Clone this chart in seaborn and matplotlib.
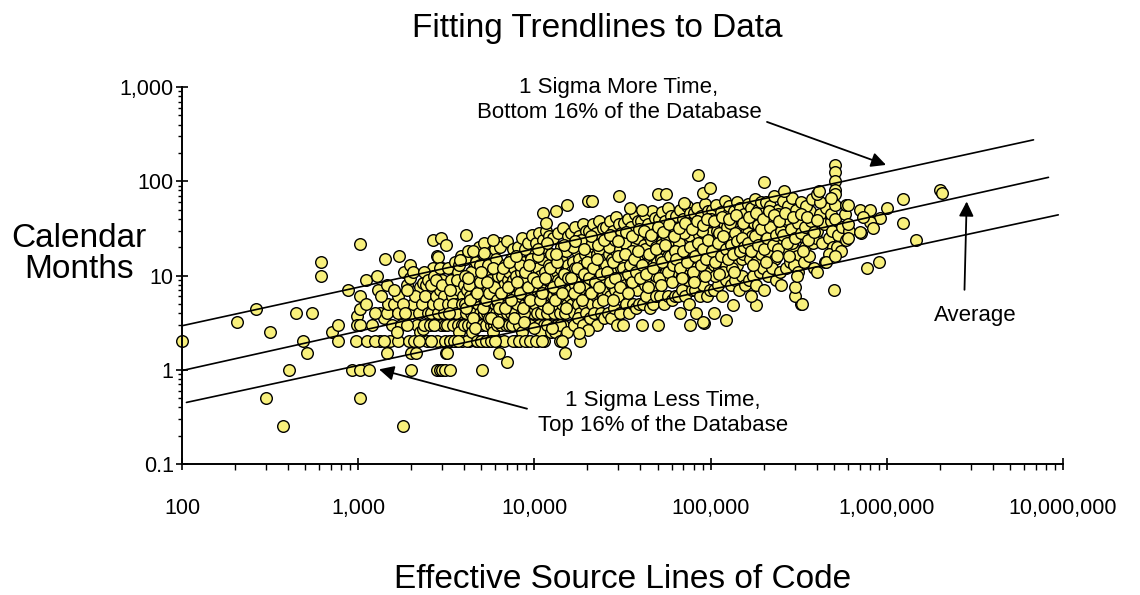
import matplotlib
matplotlib.use("Agg")
import matplotlib.pyplot as plt
import matplotlib.ticker as mticker
import pandas as pd
import seaborn as sns

# ---------------- data (SLOC, calendar months) ----------------
pts_left = [
    (100, 2), (205, 3.2), (263, 4.4), (300, 0.5), (316, 2.5), (376, 0.25), (406, 1), (443, 4),
    (484, 2), (510, 1.5), (550, 4), (615, 14), (615, 10), (713, 2.5), (767, 3), (767, 2),
    (879, 7), (927, 1), (968, 2), (980, 3.7), (980, 3), (1023, 21.5), (1023, 6), (1023, 4.4),
    (1023, 3), (1023, 1), (1023, 0.5), (1106, 5), (1106, 9), (1127, 2), (1150, 1), (1274, 10),
    (1297, 7), (1330, 2), (1330, 4), (1400, 3.5), (1415, 15), (1450, 8), (1450, 4), (1452, 1.5),
    (1480, 5), (1510, 2), (1590, 5), (1690, 6), (1690, 4), (1690, 2), (1706, 16), (1790, 0.25),
    (1820, 11), (1880, 8), (1950, 2), (1970, 13), (1970, 9.5), (1995, 1), (2000, 1.5), (2000, 4),
    (2040, 11), (2050, 5), (2140, 1.5), (2150, 3), (2240, 7.5), (2240, 2.5), (2330, 8.4),
    (2330, 2.7), (2440, 8), (2450, 2), (2660, 24), (2660, 12), (2660, 7), (2780, 4), (2786, 1),
    (2800, 16), (2850, 15.7), (2900, 1), (2970, 25), (3000, 12), (3000, 9), (3000, 3), (3000, 1),
    (3100, 1), (3150, 1.5), (3160, 21), (3200, 1.5), (3300, 1),
    (1200, 3), (1250, 4), (1350, 6), (1550, 3), (1600, 7), (1750, 3), (1800, 5), (1850, 4),
    (1900, 3), (2100, 6), (2200, 4), (2300, 5), (2350, 3), (2400, 6), (2500, 4), (1650, 2.5),
    (2080, 2), (2200, 2), (2600, 2), (2350, 11), (2500, 9), (1900, 7), (1250, 2), (1400, 2),
]

pts_core_a = [
    (2550, 3), (2600, 4), (2650, 5), (2700, 3), (2750, 6), (2800, 2), (2850, 4), (2900, 7),
    (2950, 3), (3000, 5), (3050, 4), (3100, 2), (2600, 8), (2700, 10), (2900, 12), (3050, 6),
    (2580, 2), (2680, 3), (2780, 9), (2880, 5), (3120, 3), (2980, 8),
    (3200, 3), (3250, 5), (3300, 2), (3350, 4), (3400, 6), (3450, 3), (3500, 8), (3550, 4),
    (3600, 2), (3650, 5), (3700, 3), (3750, 7), (3800, 4), (3850, 10), (3900, 3), (3950, 6),
    (3220, 12), (3380, 9), (3520, 14), (3680, 11), (3820, 16), (3300, 7), (3450, 5), (3600, 4),
    (3750, 2.5), (3900, 5), (3280, 4), (3620, 9), (3880, 2), (3480, 2), (3720, 13), (3960, 8),
    (4000, 3), (4050, 5), (4100, 4), (4150, 7), (4200, 3), (4250, 2), (4300, 6), (4350, 4),
    (4400, 9), (4450, 3), (4500, 5), (4550, 12), (4600, 4), (4650, 2), (4700, 7), (4750, 3),
    (4800, 5), (4850, 10), (4900, 4), (4950, 6), (4020, 15), (4180, 18), (4380, 11), (4520, 8),
    (4680, 14), (4880, 20), (4120, 2), (4420, 2.5), (4780, 3), (4980, 2), (4280, 8), (4620, 6),
    (4060, 10), (4920, 13),
    (5050, 3), (5100, 6), (5150, 4), (5200, 8), (5250, 5), (5300, 3), (5350, 11), (5400, 4),
    (5450, 7), (5500, 2), (5550, 5), (5600, 9), (5650, 3), (5700, 6), (5750, 14), (5800, 4),
    (5850, 8), (5900, 3), (5950, 5), (6000, 12), (6050, 4), (6100, 7), (6150, 2), (6200, 10),
    (6250, 5), (5080, 17), (5380, 20), (5680, 16), (5980, 19), (6280, 22), (5220, 2), (5520, 3.5),
    (5820, 2.5), (6120, 3), (5480, 13), (6080, 15),
    (6350, 4), (6400, 7), (6450, 3), (6500, 5), (6550, 10), (6600, 4), (6650, 6), (6700, 2),
    (6750, 8), (6800, 5), (6850, 13), (6900, 3), (6950, 7), (7000, 4), (7050, 9), (7100, 6),
    (7150, 3), (7200, 11), (7250, 5), (7300, 8), (7350, 4), (7400, 15), (7450, 6), (7500, 3),
    (7550, 9), (7600, 5), (7650, 12), (7700, 7), (7750, 4), (7800, 18), (7850, 6), (7900, 10),
    (6420, 20), (6980, 23), (7520, 19), (7880, 2),
    (8000, 5), (8100, 8), (8200, 3), (8300, 6), (8400, 11), (8500, 4), (8600, 7), (8700, 14),
    (8800, 5), (8900, 9), (9000, 3), (9100, 6), (9200, 12), (9300, 4), (9400, 8), (9500, 17),
    (9600, 5), (9700, 10), (9800, 3), (9900, 7), (8050, 20), (8450, 25), (8850, 19), (9250, 22),
    (9650, 27), (8150, 2), (8550, 2.5), (9050, 2), (9450, 3), (9850, 4), (8250, 13), (8650, 9),
    (9150, 6), (9550, 15), (9950, 11), (8750, 4),
]

pts_core_b = [
    (10100, 5), (10200, 9), (10300, 4), (10400, 7), (10500, 12), (10600, 3), (10700, 6),
    (10800, 10), (10900, 4), (11000, 8), (11100, 15), (11200, 5), (11300, 7), (11400, 3),
    (11500, 11), (11600, 6), (11700, 18), (11800, 4), (11900, 9), (12000, 5), (12100, 13),
    (12200, 7), (12300, 3), (12400, 10), (12500, 6), (10150, 22), (10650, 28), (11150, 24),
    (11650, 30), (12150, 26), (10350, 2), (10850, 2.5), (11350, 2), (11850, 3), (12350, 2.5),
    (10550, 16), (11450, 20), (12450, 17),
    (12700, 6), (12800, 10), (12900, 4), (13000, 8), (13100, 13), (13200, 5), (13300, 7),
    (13400, 11), (13500, 3), (13600, 9), (13700, 16), (13800, 6), (13900, 4), (14000, 12),
    (14100, 7), (14200, 20), (14300, 5), (14400, 9), (14500, 3), (14600, 14), (14700, 8),
    (14800, 6), (14900, 11), (15000, 4), (15100, 18), (15200, 7), (15300, 10), (15400, 5),
    (15500, 13), (15600, 8), (15700, 6), (12750, 25), (13650, 28), (14550, 32), (15450, 26),
    (13150, 2.5), (14050, 3), (15250, 2.5),
    (16000, 7), (16150, 11), (16300, 5), (16450, 9), (16600, 14), (16750, 4), (16900, 8),
    (17050, 12), (17200, 6), (17350, 18), (17500, 10), (17650, 5), (17800, 7), (17950, 15),
    (18100, 9), (18250, 4), (18400, 11), (18550, 22), (18700, 6), (18850, 13), (19000, 8),
    (19150, 5), (19300, 17), (19450, 10), (19600, 7), (19800, 12), (16200, 28), (17100, 33),
    (18000, 26), (18900, 35), (19700, 30), (16700, 3), (17700, 3.5), (18800, 3), (19500, 4),
    (16500, 20), (18300, 24),
    (20100, 8), (20300, 12), (20500, 6), (20700, 10), (20900, 16), (21100, 5), (21300, 9),
    (21500, 14), (21700, 7), (21900, 20), (22100, 11), (22300, 6), (22500, 8), (22700, 17),
    (22900, 10), (23100, 5), (23300, 13), (23500, 25), (23700, 7), (23900, 11), (24100, 9),
    (24300, 15), (24500, 6), (24700, 12), (24900, 8), (20400, 30), (21400, 35), (22400, 28),
    (23400, 38), (24400, 32), (20800, 3.5), (21800, 4), (22800, 3), (23800, 4), (24800, 3.5),
    (21200, 22), (23200, 19),
    (25300, 9), (25600, 13), (25900, 7), (26200, 11), (26500, 17), (26800, 6), (27100, 10),
    (27400, 15), (27700, 8), (28000, 22), (28300, 12), (28600, 7), (28900, 9), (29200, 18),
    (29500, 11), (29800, 6), (30100, 14), (30400, 26), (30700, 8), (31000, 12), (31300, 10),
    (25500, 33), (26700, 38), (27900, 30), (29100, 42), (30300, 35), (31200, 28), (26000, 4),
    (27200, 3.5), (28400, 4.5), (29600, 3), (30800, 4), (26400, 20), (28700, 24), (30600, 19),
    (32000, 10), (32400, 15), (32800, 8), (33200, 12), (33600, 19), (34000, 7), (34400, 11),
    (34800, 16), (35200, 9), (35600, 24), (36000, 13), (36400, 8), (36800, 10), (37200, 20),
    (37600, 12), (38000, 7), (38400, 15), (38800, 28), (39200, 9), (39600, 13), (32200, 36),
    (33800, 40), (35400, 33), (37000, 45), (38600, 38), (33000, 5), (34600, 4), (36200, 5),
    (37800, 4.5), (39400, 5), (32600, 22), (35800, 18), (38200, 25),
]

pts_core_c = [
    (40000, 11), (40500, 16), (41000, 9), (41500, 13), (42000, 21), (42500, 8), (43000, 12),
    (43500, 17), (44000, 10), (44500, 26), (45000, 14), (45500, 9), (46000, 11), (46500, 22),
    (47000, 13), (47500, 8), (48000, 16), (48500, 30), (49000, 10), (49500, 14), (40200, 38),
    (42200, 44), (44200, 35), (46200, 48), (48200, 41), (41200, 5), (43200, 6), (45200, 4.5),
    (47200, 5), (49200, 6), (42700, 19), (45700, 24), (48700, 20),
    (50500, 12), (51200, 18), (51900, 10), (52600, 15), (53300, 23), (54000, 9), (54700, 13),
    (55400, 19), (56100, 11), (56800, 28), (57500, 16), (58200, 10), (58900, 12), (59600, 24),
    (60300, 14), (61000, 9), (61700, 17), (62400, 32), (62900, 11), (50800, 40), (53000, 47),
    (55200, 38), (57400, 52), (59700, 43), (62000, 36), (51500, 6), (54300, 5), (57100, 6),
    (60000, 5.5), (62600, 6), (52300, 21), (56000, 26), (60700, 20),
    (63500, 13), (64500, 19), (65500, 11), (66500, 16), (67500, 25), (68500, 10), (69500, 14),
    (70500, 21), (71500, 12), (72500, 30), (73500, 17), (74500, 11), (75500, 13), (76500, 26),
    (77500, 15), (78500, 10), (79000, 18), (64000, 43), (67000, 50), (70000, 40), (73000, 55),
    (76000, 46), (79200, 38), (65000, 6), (69000, 7), (72000, 6), (75000, 5), (78000, 7),
    (66000, 22), (71000, 28), (74000, 9), (77000, 35),
    (80000, 15), (81500, 21), (83000, 12), (84500, 17), (86000, 27), (87500, 11), (89000, 15),
    (90500, 23), (92000, 13), (93500, 33), (95000, 18), (96500, 12), (98000, 14), (99500, 28),
    (80500, 46), (84000, 52), (88000, 43), (92500, 58), (97000, 48), (82000, 7), (86500, 6),
    (91000, 8), (95500, 6), (99000, 7), (81000, 9), (85000, 10), (89500, 30), (94000, 20),
    (97500, 38),
    (101000, 16), (103000, 23), (105000, 13), (107000, 19), (109000, 30), (111000, 12),
    (113000, 17), (115000, 25), (117000, 14), (119000, 36), (121000, 20), (123000, 13),
    (125000, 16), (102000, 50), (108000, 56), (114000, 47), (120000, 62), (124000, 44),
    (104000, 7), (110000, 8), (116000, 6), (122000, 9), (106000, 10), (112000, 28),
    (118000, 11), (124500, 33), (100500, 40),
    (127000, 18), (130000, 25), (133000, 14), (136000, 21), (139000, 33), (142000, 13),
    (145000, 19), (148000, 27), (151000, 15), (154000, 39), (157000, 22), (128000, 55),
    (135000, 48), (141000, 60), (147000, 52), (155000, 45), (131000, 8), (138000, 9),
    (144000, 7), (150000, 10), (156000, 8), (132000, 12), (146000, 30), (152000, 17),
    (129000, 36), (158000, 28),
]

pts_core_d = [
    (160000, 20), (164000, 28), (168000, 15), (172000, 23), (176000, 36), (180000, 14),
    (184000, 20), (188000, 30), (192000, 17), (196000, 42), (162000, 58), (170000, 52),
    (178000, 65), (186000, 50), (194000, 60), (166000, 9), (174000, 10), (182000, 8),
    (190000, 11), (198000, 12), (171000, 26), (185000, 34), (199000, 22),
    (202000, 22), (208000, 31), (214000, 17), (220000, 25), (226000, 40), (232000, 15),
    (238000, 22), (244000, 33), (250000, 18), (205000, 60), (217000, 55), (229000, 70),
    (241000, 50), (211000, 10), (223000, 12), (235000, 9), (247000, 11), (218000, 28),
    (240000, 45),
    (255000, 24), (263000, 35), (271000, 18), (279000, 28), (287000, 44), (295000, 20),
    (303000, 30), (311000, 16), (259000, 62), (275000, 55), (291000, 66), (307000, 50),
    (267000, 12), (283000, 14), (299000, 13), (315000, 11), (288000, 22), (270000, 40),
    (320000, 26), (332000, 40), (344000, 20), (356000, 32), (368000, 48), (380000, 22),
    (392000, 34), (326000, 60), (350000, 55), (374000, 65), (338000, 14), (362000, 16),
    (386000, 12), (395000, 25),
    (402000, 30), (415000, 45), (428000, 22), (441000, 35), (454000, 52), (467000, 25),
    (480000, 38), (493000, 20), (420000, 60), (446000, 14), (472000, 17), (490000, 30),
    (485000, 45),
    (505000, 40), (530000, 27), (560000, 33), (580000, 45), (610000, 30), (520000, 20),
    (550000, 18), (600000, 35),
]

pts_core_fill = [
    (4100, 4.5), (4300, 5.5), (4500, 3.5), (4700, 6.5), (4900, 8.5), (5100, 4.5), (5300, 5.5),
    (5500, 6.5), (5700, 3.5), (5900, 7.5), (6100, 5.5), (6300, 4.5), (4200, 9.5), (4600, 2.8),
    (5000, 11), (5400, 8.5), (5800, 12), (6200, 3.2),
    (6500, 6.5), (6800, 4.5), (7100, 7.5), (7400, 5.5), (7700, 3.5), (8000, 8.5), (8300, 6.5),
    (8600, 4.5), (8900, 11), (9200, 7.5), (9500, 5.5), (9800, 9.5), (6600, 12), (7200, 14),
    (7900, 16), (8700, 3.2), (9300, 13), (9900, 2.8),
    (10300, 8.5), (10700, 5.5), (11100, 6.5), (11500, 9.5), (11900, 4.5), (12300, 12),
    (12700, 7.5), (13100, 5.5), (13500, 14), (13900, 8.5), (14300, 6.5), (14700, 10.5),
    (15100, 4.5), (15500, 9.5), (10500, 19), (11800, 22), (13300, 17), (14800, 21),
    (16200, 9.5), (16800, 6.5), (17400, 12), (18000, 7.5), (18600, 5.5), (19200, 10.5),
    (19800, 14), (20400, 9.5), (21000, 6.5), (21600, 12), (22200, 8.5), (22800, 15),
    (23400, 7.5), (24000, 10.5), (24600, 5.5), (17000, 23), (19000, 19), (21000, 26),
    (23000, 21), (24800, 24),
    (25800, 11), (26800, 8.5), (27800, 14), (28800, 9.5), (29800, 16), (30800, 7.5),
    (31800, 12), (32800, 17), (33800, 10.5), (34800, 13), (35800, 8.5), (36800, 15),
    (37800, 11), (38800, 18), (39800, 9.5), (27000, 27), (30000, 23), (33000, 29), (36000, 26),
    (39000, 31), (28000, 5.5), (34000, 6.5),
    (41000, 13), (43000, 10.5), (45000, 17), (47000, 12), (49000, 19), (51000, 9.5),
    (53000, 14), (55000, 21), (57000, 11), (59000, 16), (61000, 13), (63000, 18), (42000, 30),
    (46000, 27), (50000, 33), (54000, 29), (58000, 35), (62000, 26), (44000, 7.5), (52000, 8),
    (60000, 8.5),
    (64000, 15), (67000, 12), (70000, 18), (73000, 14), (76000, 20), (79000, 11), (82000, 16),
    (85000, 22), (88000, 13), (91000, 19), (94000, 15), (97000, 24), (66000, 32), (72000, 36),
    (78000, 31), (84000, 38), (90000, 34), (96000, 40), (69000, 9.5), (81000, 8.5), (93000, 10),
    (102000, 18), (106000, 14), (110000, 22), (114000, 16), (118000, 26), (122000, 19),
    (126000, 15), (130000, 21), (134000, 17), (138000, 28), (142000, 23), (146000, 18),
    (150000, 25), (154000, 20), (104000, 38), (116000, 42), (128000, 40), (140000, 44),
    (152000, 36), (112000, 10.5), (136000, 11),
    (162000, 22), (170000, 18), (178000, 26), (186000, 21), (194000, 31), (202000, 19),
    (210000, 25), (218000, 33), (226000, 21), (234000, 27), (242000, 19), (250000, 30),
    (166000, 42), (182000, 46), (198000, 40), (214000, 48), (230000, 44), (246000, 38),
    (174000, 13), (206000, 14), (238000, 16),
    (258000, 27), (272000, 22), (286000, 31), (300000, 25), (314000, 36), (328000, 28),
    (342000, 33), (356000, 24), (370000, 38), (384000, 29), (264000, 46), (294000, 42),
    (324000, 45), (354000, 42), (280000, 16), (334000, 18),
]

pts_edges = [
    (4090, 27), (5150, 22), (5840, 24), (3800, 14.7), (4470, 18), (5200, 17.5), (11200, 46),
    (11700, 36), (85000, 117), (30400, 69), (50600, 74), (55800, 74), (20200, 61), (21200, 61),
    (15300, 56), (13300, 48), (34900, 52), (40900, 50), (70800, 59), (90000, 75), (14900, 1.5),
    (13900, 2), (14400, 2), (18200, 2), (20200, 2.65), (17900, 2.45), (12600, 2.8), (32000, 3),
    (41000, 3), (50500, 3), (76000, 3), (67000, 4), (83000, 4), (92000, 3.1), (5030, 1),
    (6960, 1.2), (6330, 1.5), (3300, 2), (3500, 2), (3700, 2), (4700, 2), (5000, 2), (5300, 2),
    (5700, 2), (6000, 2), (7600, 2), (8200, 2), (8800, 2), (9500, 2), (10200, 2), (11000, 2),
]

pts_right = [
    (508000, 150), (508000, 125), (508000, 100), (508000, 80), (508000, 73), (508000, 56),
    (200000, 97), (99000, 84), (260000, 78), (400000, 73), (500000, 7), (770000, 12),
    (325000, 5), (300000, 6), (300000, 7.6), (250000, 8), (310000, 9.8), (400000, 11),
    (450000, 14), (510000, 16), (590000, 24), (710000, 28), (700000, 50), (590000, 56),
    (400000, 39), (480000, 66), (180000, 4.9), (123000, 3.4), (104000, 4), (91000, 3.2),
    (200000, 7), (169000, 6), (134000, 4.9), (2000000, 81), (2050000, 75), (1240000, 65),
    (1240000, 36), (1470000, 24), (1000000, 52), (900000, 14), (330000, 5), (910000, 41),
    (800000, 50), (800000, 37), (840000, 32), (700000, 29), (730000, 42), (600000, 56),
    (600000, 25), (410000, 78),
]

# trendlines: (start SLOC, end SLOC), (start months, end months)
upper_sloc = [100, 6.8e6]
upper_months = [2.93, 275]
avg_sloc = [100, 8.27e6]
avg_months = [0.98, 110]
lower_sloc = [106, 9.4e6]
lower_months = [0.45, 44]

x_ticks = [100, 1000, 10000, 100000, 1000000, 10000000]
y_ticks = [0.1, 1, 10, 100, 1000]

# ---------------- plotting ----------------
sns.set_theme(style="white")
plt.rcParams["font.family"] = ["Liberation Sans", "DejaVu Sans"]
plt.rcParams["text.color"] = "black"
plt.rcParams["xtick.color"] = "black"
plt.rcParams["ytick.color"] = "black"
plt.rcParams["axes.labelcolor"] = "black"

W, H = 1140, 595
fig = plt.figure(figsize=(W / 100, H / 100), dpi=100)
ax = fig.add_axes([182 / W, 1 - 464 / H, 881 / W, (464 - 87) / H])
ax.set_xscale("log")
ax.set_yscale("log")

all_pts = (pts_left + pts_core_a + pts_core_b + pts_core_c + pts_core_d + pts_core_fill
           + pts_edges + pts_right)
df = pd.DataFrame(all_pts, columns=["sloc", "months"])

sns.scatterplot(data=df, x="sloc", y="months", ax=ax, s=70, color="#F8F07C",
                edgecolor="black", linewidth=1.0, clip_on=False, zorder=2, legend=False)

for xs, ys in [(upper_sloc, upper_months), (avg_sloc, avg_months), (lower_sloc, lower_months)]:
    sns.lineplot(x=xs, y=ys, ax=ax, color="black", lw=1.2, zorder=3, estimator=None, sort=False)

ax.set_xlim(100, 1e7)
ax.set_ylim(0.1, 1000)
ax.set_xticks(x_ticks)
ax.set_yticks(y_ticks)

def fmt(v, pos=None):
    if v < 1:
        return f"{v:g}"
    return f"{int(round(v)):,}"

ax.xaxis.set_major_formatter(mticker.FuncFormatter(fmt))
ax.yaxis.set_major_formatter(mticker.FuncFormatter(fmt))
ax.xaxis.set_minor_locator(mticker.LogLocator(base=10, subs=range(2, 10), numticks=20))
ax.yaxis.set_minor_locator(mticker.LogLocator(base=10, subs=range(2, 10), numticks=20))
ax.xaxis.set_minor_formatter(mticker.NullFormatter())
ax.yaxis.set_minor_formatter(mticker.NullFormatter())

for s in ["top", "right"]:
    ax.spines[s].set_visible(False)
for s in ["left", "bottom"]:
    ax.spines[s].set_color("black")
    ax.spines[s].set_linewidth(1.4)

ax.tick_params(which="both", bottom=True, left=True, colors="black", labelcolor="black")
ax.tick_params(axis="x", which="major", direction="inout", length=9, width=1.2,
               labelsize=15.5, pad=20)
ax.tick_params(axis="x", which="minor", direction="out", length=4, width=1.0)
ax.tick_params(axis="y", which="major", direction="inout", length=8, width=1.2,
               labelsize=15.5, pad=2)
ax.tick_params(axis="y", which="minor", direction="out", length=3, width=1.0)
ax.set_xlabel("")
ax.set_ylabel("")
ax.grid(False)

# titles / axis labels
fig.text(597 / W, 1 - 28 / H, "Fitting Trendlines to Data", ha="center", va="center",
         fontsize=24, color="black")
fig.text(79 / W, 1 - 254 / H, "Calendar\nMonths", ha="center", va="center", fontsize=24,
         linespacing=1.0, color="black")
fig.text(623 / W, 1 - 580 / H, "Effective Source Lines of Code", ha="center", va="center",
         fontsize=24, color="black")

# annotations
fig.text(619 / W, 1 - 100 / H, "1 Sigma More Time,\nBottom 16% of the Database",
         ha="center", va="center", fontsize=16, linespacing=1.25, color="black")
fig.text(663 / W, 1 - 413 / H, "1 Sigma Less Time,\nTop 16% of the Database",
         ha="center", va="center", fontsize=16, linespacing=1.25, color="black")
fig.text(975 / W, 1 - 315 / H, "Average", ha="center", va="center", fontsize=16, color="black")

arrow = dict(arrowstyle="-|>", color="black", lw=1.3, mutation_scale=22, shrinkA=0, shrinkB=0)
ax.annotate("", xy=(990000, 149), xytext=(209000, 426), arrowprops=arrow, annotation_clip=False)
ax.annotate("", xy=(2.84e6, 61), xytext=(2.76e6, 7.05), arrowprops=arrow, annotation_clip=False)
ax.annotate("", xy=(1313, 1.01), xytext=(9080, 0.386), arrowprops=arrow, annotation_clip=False)

fig.savefig("out.png", dpi=100, facecolor="white")
